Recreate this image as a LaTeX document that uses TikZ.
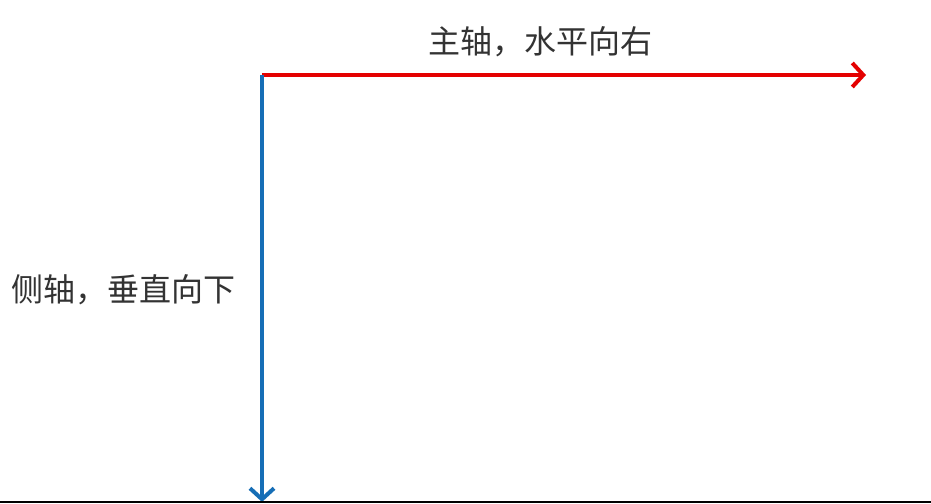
\documentclass[tikz,border=0pt]{standalone}
\usepackage{fontspec}
\newfontfamily\cjk{Noto Sans CJK SC}
\usetikzlibrary{arrows.meta}
\definecolor{axred}{RGB}{228,0,0}
\definecolor{axblue}{RGB}{22,110,182}
\definecolor{txt}{RGB}{51,51,51}
\tikzset{
  axisline/.style={line width=4pt, -{Straight Barb[length=11pt,width=24pt,line width=4pt]}},
  lbl/.style={font=\cjk\fontsize{32}{32}\selectfont, text=txt, inner sep=0pt}
}
\begin{document}
\begin{tikzpicture}[x=1pt,y=1pt]
\useasboundingbox (0,0) rectangle (931,503);
\fill[white] (0,0) rectangle (931,503);
\coordinate (o) at (262,428);
\coordinate (xend) at (866,428);
\coordinate (yend) at (262,1);
\draw[axisline, axred] (o) -- (xend);
\draw[axisline, axblue] (o) -- (yend);
\node[lbl] (main) at (540,461) {主轴，水平向右};
\node[lbl] (cross) at (124,213) {侧轴，垂直向下};
\coordinate (bl) at (0,1);
\coordinate (br) at (931,1);
\draw[line width=2pt, black] (bl) -- (br);
\end{tikzpicture}
\end{document}
